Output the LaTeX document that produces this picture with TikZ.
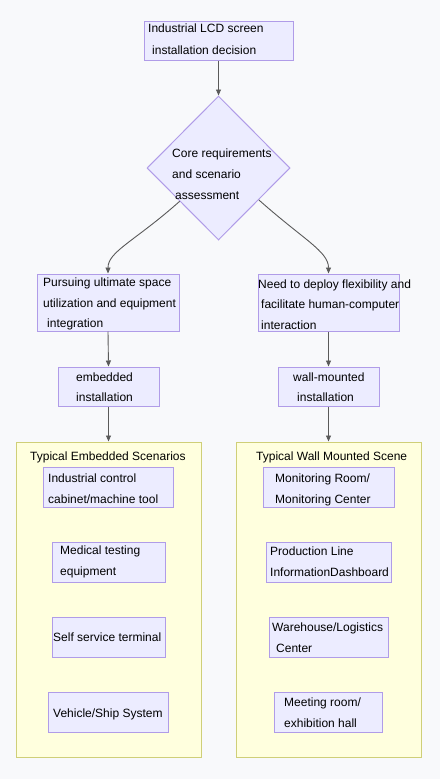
\documentclass[tikz,border=0pt]{standalone}
\usepackage{fontspec}
\setmainfont{Liberation Sans}
\usetikzlibrary{arrows.meta,shapes.geometric,fit,calc}
\definecolor{bgcol}{HTML}{F8F9FB}
\definecolor{boxfill}{HTML}{ECECFF}
\definecolor{boxline}{HTML}{B09CE8}
\definecolor{grpfill}{HTML}{FFFFDE}
\definecolor{grpline}{HTML}{CFCF78}
\definecolor{edgecol}{HTML}{5A5A5A}
\tikzset{
  box/.style={draw=boxline, fill=boxfill, line width=1pt, inner sep=0pt, rectangle},
  grp/.style={draw=grpline, fill=grpfill, line width=1pt, inner sep=0pt, rectangle},
  arr/.style={draw=edgecol, line width=0.9pt, -{Triangle[length=6pt,width=5pt]}},
  tl/.style={anchor=base west, inner sep=0pt, font=\fontsize{12}{14}\selectfont, text=black},
}
% line of text: name, x, visual centre y, text
\newcommand{\tline}[4]{\node[tl] (#1) at (#2,{-(#3+4.3)}) {#4};}
\begin{document}
\begin{tikzpicture}[x=1pt,y=1pt]
\fill[bgcol] (0,0) rectangle (440,-779);
\useasboundingbox (0,0) rectangle (440,-779);

% groups
\node[grp, fit={(16,-442) (201,-757)}] (g1) {};
\node[grp, fit={(236,-442) (421,-757)}] (g2) {};

% boxes
\node[box, fit={(144,-21) (293,-60)}] (top) {};
\node[diamond, draw=boxline, fill=boxfill, line width=1pt, inner sep=0pt,
      minimum width=143pt, minimum height=144pt] (dia) at (218.5,-168) {};
\node[box, fit={(37,-274) (179,-331)}] (b1) {};
\node[box, fit={(258,-274) (399,-331)}] (b2) {};
\node[box, fit={(58,-367) (159,-406)}] (e1) {};
\node[box, fit={(278,-367) (379,-406)}] (e2) {};

\node[box, fit={(43,-467) (173,-507)}] (s1) {};
\node[box, fit={(52,-542) (165,-582)}] (s2) {};
\node[box, fit={(52,-617) (165,-657)}] (s3) {};
\node[box, fit={(48,-692) (168,-732)}] (s4) {};

\node[box, fit={(263,-467) (394,-507)}] (w1) {};
\node[box, fit={(266,-542) (391,-582)}] (w2) {};
\node[box, fit={(269,-617) (388,-657)}] (w3) {};
\node[box, fit={(274,-692) (382,-732)}] (w4) {};

% texts
\tline{ta}{148}{28.5}{Industrial LCD screen}
\tline{tb}{152}{50}{installation decision}
\tline{da}{172}{153}{Core requirements}
\tline{db}{172}{174}{and scenario}
\tline{dc}{175}{195}{assessment}
\tline{la}{43}{282}{Pursuing ultimate space}
\tline{lb}{43}{303}{utilization and equipment}
\tline{lc}{47}{323.5}{integration}
\tline{ra}{258}{284}{Need to deploy flexibility and}
\tline{rb}{261}{304.5}{facilitate human-computer}
\tline{rc}{261}{325}{interaction}
\tline{ea}{76}{377}{embedded}
\tline{eb}{76}{397.5}{installation}
\tline{wa}{293}{377}{wall-mounted}
\tline{wb}{297}{397.5}{installation}
\tline{ga}{30}{456}{Typical Embedded Scenarios}
\tline{gb}{256}{456}{Typical Wall Mounted Scene}
\tline{sa}{48}{478}{Industrial control}
\tline{sb}{48}{499}{cabinet/machine tool}
\tline{sc}{60}{550.5}{Medical testing}
\tline{sd}{60}{571.5}{equipment}
\tline{se}{53}{637}{Self service terminal}
\tline{sf}{53}{713}{Vehicle/Ship System}
\tline{wc}{275}{478}{Monitoring Room/}
\tline{wd}{275}{499}{Monitoring Center}
\tline{we}{270}{551}{Production Line}
\tline{wf}{270}{572}{InformationDashboard}
\tline{wg}{272}{627}{Warehouse/Logistics}
\tline{wh}{276}{648}{Center}
\tline{wi}{284}{702}{Meeting room/}
\tline{wj}{284}{723}{exhibition hall}

% connectors
\coordinate (dl) at ($(dia.west)!0.46!(dia.south)$);
\coordinate (dr) at ($(dia.east)!0.44!(dia.south)$);
\draw[arr] (top.south) -- (dia.north);
\draw[arr] (dl) .. controls ($(dl)+(-45,-40)$) and ($(b1.north)+(0,22)$) .. (b1.north);
\draw[arr] (dr) .. controls ($(dr)+(45,-40)$) and ($(b2.north)+(0,22)$) .. (b2.north);
\draw[arr] (b1.south) -- (e1.north);
\draw[arr] (b2.south) -- (e2.north);
\draw[arr] (e1.south) -- (g1.north);
\draw[arr] (e2.south) -- (g2.north);
\end{tikzpicture}
\end{document}
